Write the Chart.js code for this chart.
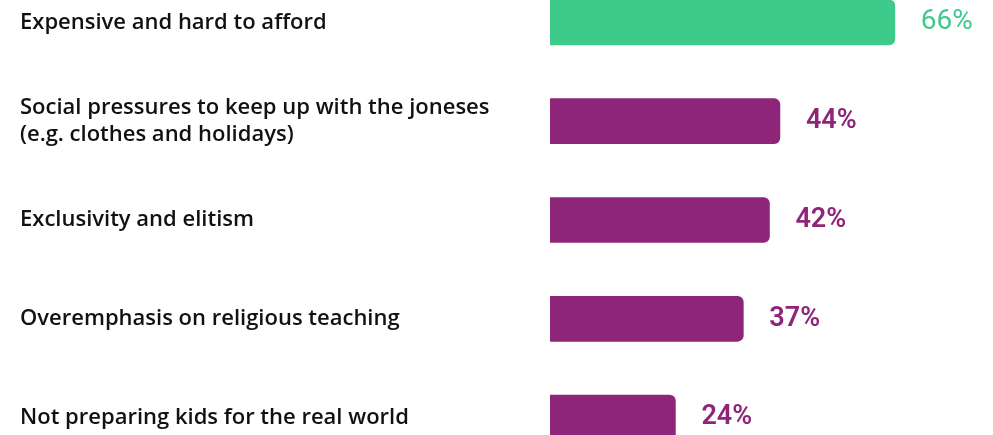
<!DOCTYPE html>
<html>
<head>
<meta charset="utf-8">
<script src="https://cdn.jsdelivr.net/npm/chart.js@4"></script>
<style>
html,body{margin:0;padding:0;background:#fff;overflow:hidden;width:993px;height:435px;}
#c{position:absolute;left:0;top:-27px;}
</style>
</head>
<body>
<canvas id="c" width="993" height="494"></canvas>
<script>
const categories = [
  "Expensive and hard to afford",
  ["Social pressures to keep up with the joneses", "(e.g. clothes and holidays)"],
  "Exclusivity and elitism",
  "Overemphasis on religious teaching",
  "Not preparing kids for the real world"
];
const values = [66, 44, 42, 37, 24];
const barColors = ["#3dca8b", "#8e2579", "#8e2579", "#8e2579", "#8e2579"];
const valueLabels = ["66%", "44%", "42%", "37%", "24%"];

const valuePlugin = {
  id: 'valueLabels',
  afterDatasetsDraw(chart) {
    const ctx = chart.ctx;
    const meta = chart.getDatasetMeta(0);
    ctx.save();
    meta.data.forEach((bar, i) => {
      ctx.fillStyle = barColors[i];
      ctx.font = (i === 0 ? '400 28px Roboto' : '600 27px Roboto');
      ctx.textAlign = 'left';
      ctx.textBaseline = 'middle';
      ctx.fillText(valueLabels[i], bar.x + 26, bar.y);
    });
    ctx.restore();
  }
};

new Chart(document.getElementById('c'), {
  type: 'bar',
  data: {
    labels: categories,
    datasets: [{
      data: values,
      backgroundColor: barColors,
      borderRadius: 6,
      barThickness: 45
    }]
  },
  options: {
    indexAxis: 'y',
    responsive: false,
    animation: false,
    layout: { padding: { left: 20, right: 25, top: 0, bottom: 0 } },
    plugins: { legend: { display: false }, tooltip: { enabled: false } },
    scales: {
      x: { display: false, min: 0, max: 80 },
      y: {
        grid: { display: false, drawTicks: false },
        border: { display: false },
        ticks: {
          crossAlign: 'far',
          color: '#111',
          padding: 0,
          font: { family: 'Open Sans', size: 22, weight: '600', lineHeight: 1.23 }
        },
        afterFit(scale) { scale.width = 530; scale.paddingTop = 0; scale.paddingBottom = 0; }
      }
    }
  },
  plugins: [valuePlugin]
});
</script>
</body>
</html>
